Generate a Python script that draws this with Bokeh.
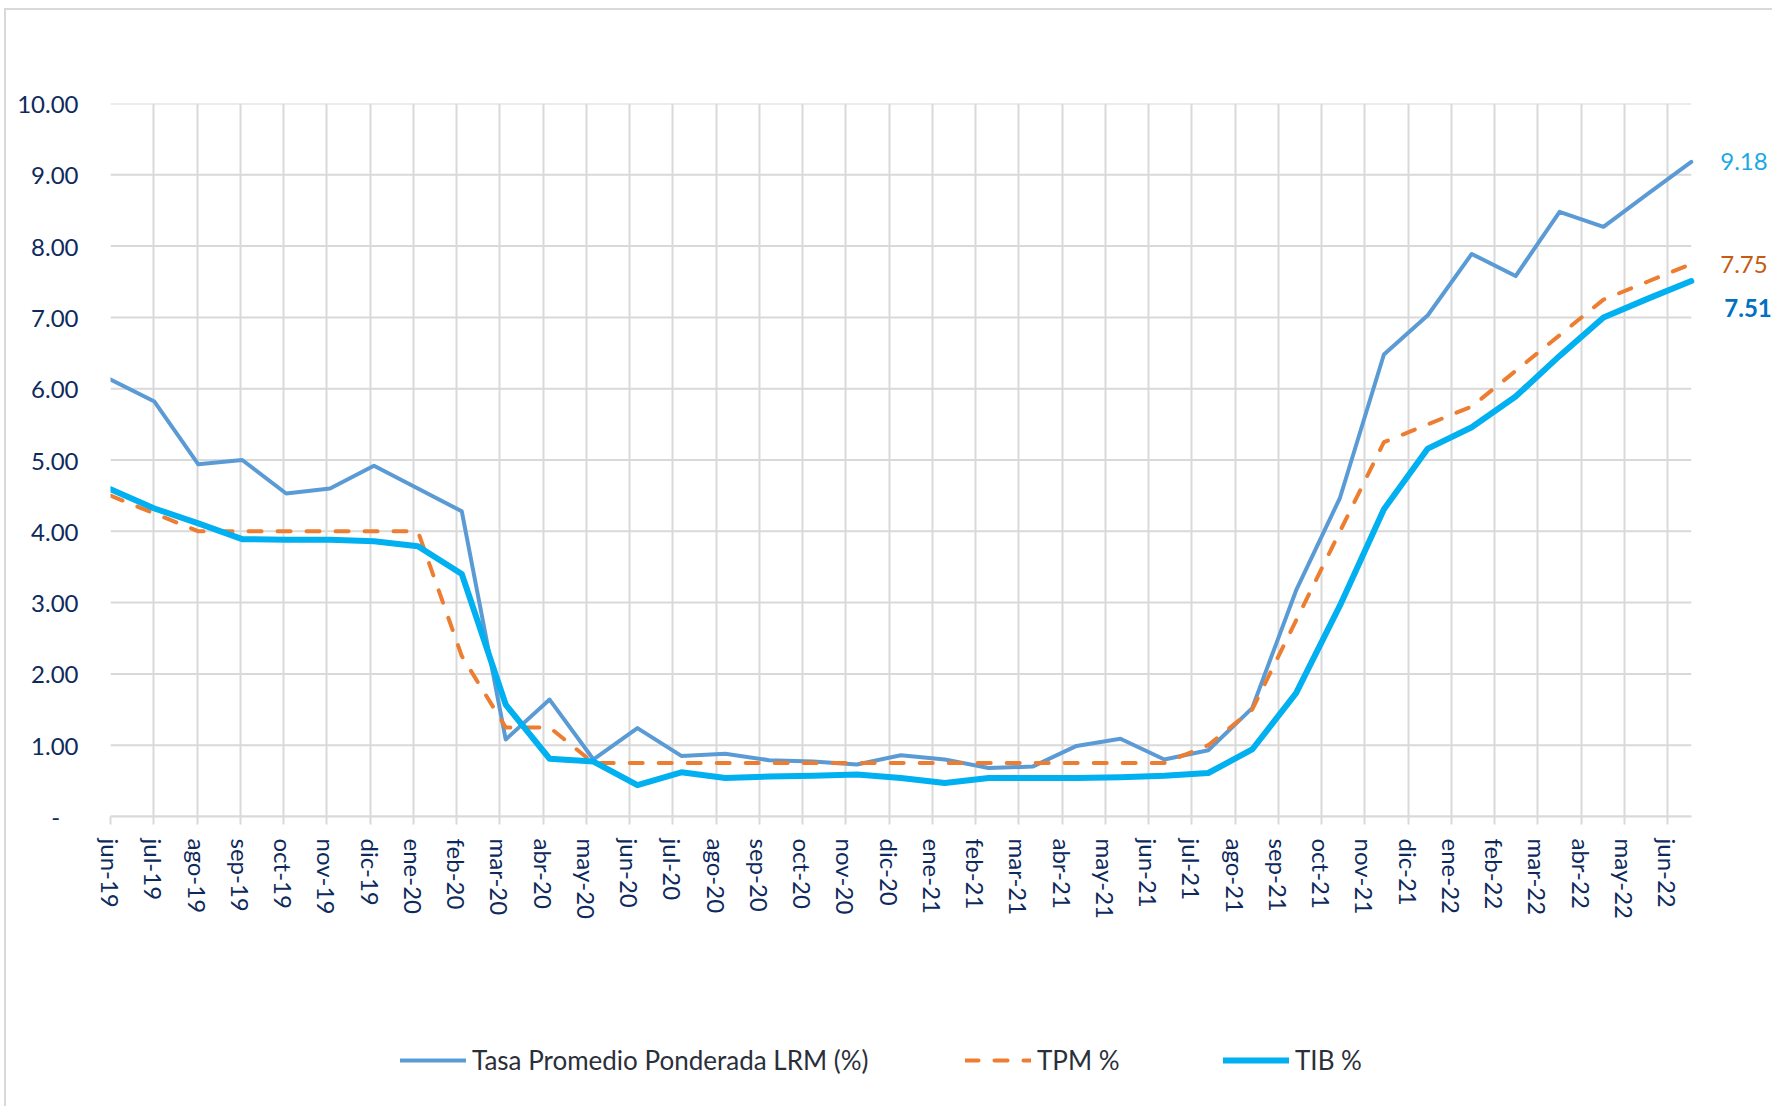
from bokeh.plotting import figure
from bokeh.models import Range1d, FixedTicker, Legend, LegendItem, Label
from bokeh.layouts import column
from bokeh.embed import file_html
from bokeh.resources import INLINE

# ---------------- data ----------------
month_labels = ["jun-19", "jul-19", "ago-19", "sep-19", "oct-19", "nov-19", "dic-19",
                "ene-20", "feb-20", "mar-20", "abr-20", "may-20", "jun-20", "jul-20",
                "ago-20", "sep-20", "oct-20", "nov-20", "dic-20", "ene-21", "feb-21",
                "mar-21", "abr-21", "may-21", "jun-21", "jul-21", "ago-21", "sep-21",
                "oct-21", "nov-21", "dic-21", "ene-22", "feb-22", "mar-22", "abr-22",
                "may-22", "jun-22"]

lrm = [6.13, 5.82, 4.94, 5.00, 4.53, 4.60, 4.92, 4.60, 4.28, 1.08, 1.64, 0.80, 1.24,
       0.85, 0.88, 0.79, 0.77, 0.73, 0.86, 0.80, 0.68, 0.70, 0.99, 1.09, 0.80, 0.93,
       1.52, 3.17, 4.47, 6.48, 7.03, 7.89, 7.58, 8.48, 8.27, 8.73, 9.18]

tpm = [4.50, 4.25, 4.00, 4.00, 4.00, 4.00, 4.00, 4.00, 2.25, 1.25, 1.25, 0.75, 0.75,
       0.75, 0.75, 0.75, 0.75, 0.75, 0.75, 0.75, 0.75, 0.75, 0.75, 0.75, 0.75, 1.00,
       1.50, 2.75, 4.00, 5.25, 5.50, 5.75, 6.25, 6.75, 7.25, 7.50, 7.75]

tib = [4.59, 4.32, 4.11, 3.89, 3.88, 3.88, 3.86, 3.79, 3.40, 1.57, 0.81, 0.77, 0.44,
       0.62, 0.54, 0.56, 0.57, 0.59, 0.54, 0.47, 0.54, 0.54, 0.54, 0.55, 0.57, 0.61,
       0.94, 1.73, 2.96, 4.31, 5.16, 5.46, 5.89, 6.46, 7.00, 7.26, 7.51]

series_names = ["Tasa Promedio Ponderada LRM (%)", "TPM %", "TIB %"]
y_ticks = list(range(0, 11))
y_tick_labels = ["-\u00a0\u00a0\u00a0"] + [f"{v:.2f}" for v in range(1, 11)]

idx = list(range(len(lrm)))

# ---------------- layout / styles ----------------
GRID = "#D9D9D9"
NAVY = "#0E2A5C"
FONT = "Lato"
LEGEND_TXT = "#2B2F3A"

W = 1766            # canvas width
H_MAIN = 912        # main figure height
H_LEG = 184         # legend strip height
LEFT = 104          # frame left border
PX_PER_MONTH = 43.25
DATA_END_MONTH = 36.55   # the last observation sits a bit after the last label

months_end = (W - LEFT) / PX_PER_MONTH
idx_end = months_end * (len(lrm) - 1) / DATA_END_MONTH

p = figure(width=W, height=H_MAIN,
           x_range=Range1d(0, months_end), y_range=Range1d(0, 10),
           output_backend="svg", toolbar_location=None,
           min_border_left=LEFT, min_border_right=0,
           min_border_top=93, min_border_bottom=100,
           background_fill_color="white", border_fill_color="white")
p.outline_line_color = None
p.extra_x_ranges = {"idx": Range1d(0, idx_end)}

# vertical grid from the month ticks
p.xgrid.grid_line_color = GRID
p.xgrid.grid_line_width = 2
# horizontal grid drawn only across the data area
p.ygrid.visible = False
p.segment(x0=[0] * len(y_ticks), x1=[DATA_END_MONTH] * len(y_ticks),
          y0=y_ticks, y1=y_ticks, line_color=GRID, line_width=2)

# x axis
xa = p.xaxis[0]
xa.ticker = FixedTicker(ticks=list(range(len(month_labels))))
xa.major_label_overrides = {i: lab for i, lab in enumerate(month_labels)}
xa.major_label_orientation = "vertical"
xa.major_label_text_font = FONT
xa.major_label_text_font_size = "24px"
xa.major_label_text_color = NAVY
xa.bounds = (0, DATA_END_MONTH)
xa.axis_line_color = GRID
xa.axis_line_width = 2
xa.major_tick_line_color = GRID
xa.major_tick_line_width = 2
xa.major_tick_in = 0
xa.major_tick_out = 8
xa.minor_tick_line_color = None
xa.major_label_standoff = 14

# y axis
ya = p.yaxis[0]
ya.ticker = FixedTicker(ticks=y_ticks)
ya.major_label_overrides = dict(zip(y_ticks, y_tick_labels))
ya.major_label_text_font = FONT
ya.major_label_text_font_size = "24px"
ya.major_label_text_color = NAVY
ya.axis_line_color = None
ya.major_tick_line_color = None
ya.minor_tick_line_color = None
ya.major_tick_in = 0
ya.major_tick_out = 0
ya.major_label_standoff = 32

# series
styles = [
    dict(line_color="#5B9BD5", line_width=4),
    dict(line_color="#ED7D31", line_width=4, line_dash="13 16"),
    dict(line_color="#00B0F0", line_width=6),
]
series = [lrm, tpm, tib]
for ys, st in zip(series, styles):
    p.line(idx, ys, x_range_name="idx", line_join="round", line_cap="round", **st)

# end value labels
end_specs = [
    (lrm[-1], "#1BA9E6", "normal", 29, 0),
    (tpm[-1], "#C55A11", "normal", 29, -1),
    (tib[-1], "#0070C0", "bold", 33, -27),
]
for val, col, fstyle, xo, yo in end_specs:
    p.add_layout(Label(x=idx[-1], y=val, x_range_name="idx", text=f"{val:.2f}",
                       x_offset=xo, y_offset=yo, text_align="left",
                       text_baseline="middle", text_font=FONT,
                       text_font_size="24px", text_font_style=fstyle,
                       text_color=col))

# ---------------- legend strip ----------------
# proxies use the same series, kept outside the strip's visible ranges
pl = figure(width=W, height=H_LEG, x_range=Range1d(0, 1), y_range=Range1d(100, 101),
            output_backend="svg", toolbar_location=None,
            x_axis_location=None, y_axis_location=None,
            min_border_left=LEFT, min_border_right=0, min_border_top=0, min_border_bottom=0,
            background_fill_color="white", border_fill_color="white")
pl.outline_line_color = None
pl.grid.visible = False

leg_pos = [(290, 30), (855, 30), (1113, 30)]
for name, ys, st, pos in zip(series_names, series, styles, leg_pos):
    r = pl.line(idx, ys, line_join="round", line_cap="round", **st)
    leg = Legend(items=[LegendItem(label=name, renderers=[r])],
                 location=pos, orientation="horizontal",
                 glyph_width=66, glyph_height=20, label_standoff=6,
                 padding=0, margin=0, spacing=0,
                 border_line_color=None, background_fill_alpha=0,
                 label_text_font=FONT, label_text_font_size="26px",
                 label_text_color=LEGEND_TXT)
    pl.add_layout(leg, "center")

layout = column(p, pl, spacing=0)
layout.styles = {"margin-left": "4px", "margin-top": "8px",
                 "border-left": "2px solid #D9D9D9", "border-top": "2px solid #D9D9D9"}

open("out.html", "w").write(file_html(layout, INLINE))
